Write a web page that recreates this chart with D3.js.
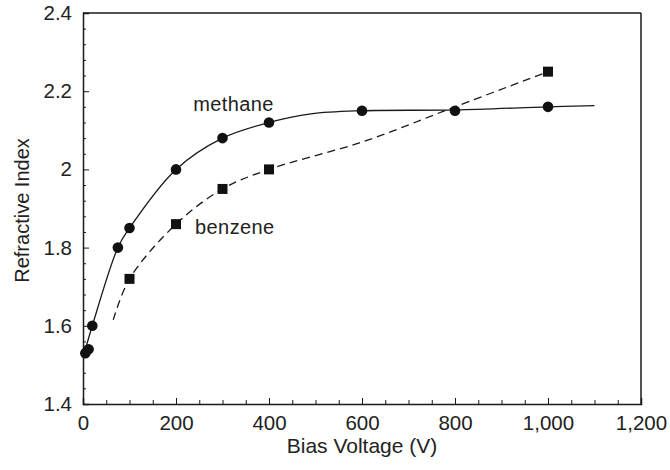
<!DOCTYPE html>
<html>
<head>
<meta charset="utf-8">
<script src="https://cdn.jsdelivr.net/npm/d3@7"></script>
<style>
  html, body { margin: 0; padding: 0; background: #fff; }
  svg { display: block; }
  text { font-family: "Liberation Sans", Arial, Helvetica, sans-serif; fill: #222; }
</style>
</head>
<body>
<svg id="chart" width="670" height="470"></svg>
<script>
// Measured points: methane (circles) and benzene (squares)
const methaneV = [5, 12, 20, 75, 100, 200, 300, 400, 600, 800, 1000];
const methaneN = [1.53, 1.54, 1.60, 1.80, 1.85, 2.00, 2.08, 2.12, 2.15, 2.15, 2.16];
const benzeneV = [100, 200, 300, 400, 1000];
const benzeneN = [1.72, 1.86, 1.95, 2.00, 2.25];

// Hand-drawn trend curves through the data
const methaneFitV = [3, 20, 75, 100, 200, 300, 400, 490, 600, 800, 1000, 1100];
const methaneFitN = [1.53, 1.60, 1.80, 1.85, 2.00, 2.08, 2.12, 2.142, 2.15, 2.152, 2.16, 2.163];
const benzeneFitV = [65, 100, 200, 300, 400, 600, 800, 1000];
const benzeneFitN = [1.615, 1.72, 1.86, 1.95, 2.00, 2.07, 2.16, 2.25];

// Axis ticks
const xTicks = [0, 200, 400, 600, 800, 1000, 1200];
const xTickLabels = ["0", "200", "400", "600", "800", "1,000", "1,200"];
const yTicks = [1.4, 1.6, 1.8, 2.0, 2.2, 2.4];
const yTickLabels = ["1.4", "1.6", "1.8", "2", "2.2", "2.4"];

const svg = d3.select("#chart");
const plotL = 83, plotR = 641, plotT = 13, plotB = 404;

const x = d3.scaleLinear().domain([0, 1200]).range([plotL, plotR]);
const y = d3.scaleLinear().domain([1.4, 2.4]).range([plotB, plotT]);

const ink = "#1a1a1a";

// Minor ticks (inward)
const xMinor = d3.range(0, 1201, 50).filter(v => v % 200 !== 0);
const yMinor = d3.range(0, 25).map(i => +(1.4 + i * 0.04).toFixed(2))
  .filter(v => !yTicks.some(t => Math.abs(t - v) < 1e-6));

svg.append("g")
  .attr("transform", `translate(0,${plotB})`)
  .call(d3.axisBottom(x).tickValues(xTicks).tickSize(-6).tickPadding(11)
        .tickFormat((d, i) => xTickLabels[i]));
svg.append("g")
  .attr("transform", `translate(0,${plotB})`)
  .call(d3.axisBottom(x).tickValues(xMinor).tickSize(-4).tickFormat(""))
  .call(g => g.select(".domain").remove());

svg.append("g")
  .attr("transform", `translate(${plotL},0)`)
  .call(d3.axisLeft(y).tickValues(yTicks).tickSize(-6).tickPadding(11)
        .tickFormat((d, i) => yTickLabels[i]));
svg.append("g")
  .attr("transform", `translate(${plotL},0)`)
  .call(d3.axisLeft(y).tickValues(yMinor).tickSize(-3).tickFormat(""))
  .call(g => g.select(".domain").remove());

svg.selectAll(".domain").attr("stroke", ink).attr("stroke-width", 1.5);
svg.selectAll(".tick line").attr("stroke", ink).attr("stroke-width", 1);
svg.selectAll(".tick text")
  .attr("font-size", 20.5)
  .attr("font-family", "Liberation Sans, Arial, sans-serif")
  .attr("fill", "#222");

// Top and right frame lines
svg.append("line").attr("x1", x(0)).attr("x2", x(1200)).attr("y1", y(2.4)).attr("y2", y(2.4))
  .attr("stroke", ink).attr("stroke-width", 1.5);
svg.append("line").attr("x1", x(1200)).attr("x2", x(1200)).attr("y1", y(2.4)).attr("y2", y(1.4))
  .attr("stroke", ink).attr("stroke-width", 1.5);

// Axis titles
svg.append("text")
  .attr("x", x(600)).attr("y", 453)
  .attr("text-anchor", "middle").attr("font-size", 21)
  .text("Bias Voltage (V)");
svg.append("text")
  .attr("transform", `translate(29,${(plotT + plotB) / 2 + 2}) rotate(-90)`)
  .attr("text-anchor", "middle").attr("font-size", 20)
  .text("Refractive Index");

// Trend curves
const line = d3.line().x(d => x(d[0])).y(d => y(d[1])).curve(d3.curveCatmullRom.alpha(0.5));
svg.append("path")
  .datum(d3.zip(methaneFitV, methaneFitN))
  .attr("d", line)
  .attr("fill", "none").attr("stroke", ink).attr("stroke-width", 1.3);
svg.append("path")
  .datum(d3.zip(benzeneFitV, benzeneFitN))
  .attr("d", line)
  .attr("fill", "none").attr("stroke", ink).attr("stroke-width", 1.3)
  .attr("stroke-dasharray", "8,5");

// Markers
svg.append("g").selectAll("circle")
  .data(d3.zip(methaneV, methaneN))
  .join("circle")
  .attr("cx", d => x(d[0])).attr("cy", d => y(d[1])).attr("r", 5.3)
  .attr("fill", "#111");
const sq = 10;
svg.append("g").selectAll("rect")
  .data(d3.zip(benzeneV, benzeneN))
  .join("rect")
  .attr("x", d => x(d[0]) - sq / 2).attr("y", d => y(d[1]) - sq / 2)
  .attr("width", sq).attr("height", sq)
  .attr("fill", "#111");

// Series labels
svg.append("text")
  .attr("x", x(237)).attr("y", y(2.150))
  .attr("font-size", 20).attr("letter-spacing", 0.4)
  .text("methane");
svg.append("text")
  .attr("x", x(241)).attr("y", y(1.835))
  .attr("font-size", 20).attr("letter-spacing", 0.4)
  .text("benzene");
</script>
</body>
</html>
